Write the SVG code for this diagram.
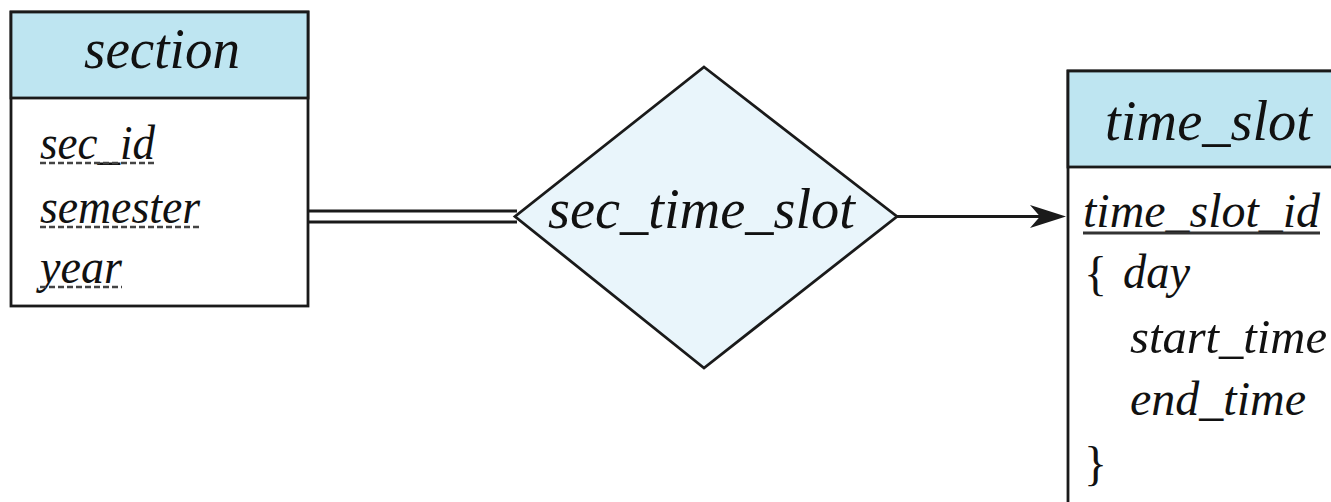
<svg xmlns="http://www.w3.org/2000/svg" width="1331" height="502" viewBox="0 0 1331 502">
<style>
.t{font-family:"Liberation Serif","Times New Roman",serif;font-style:italic;fill:#111;}
.up{font-style:normal;}
.hd{font-size:57px;}
.at{font-size:48px;}
.box{stroke:#1a1a1a;stroke-width:2.8;}
.head{fill:#bee5f1;}
.body{fill:#ffffff;}
.dash{stroke:#444;stroke-width:2.5;stroke-dasharray:6 3;fill:none;}
.solid{stroke:#333;stroke-width:2.8;fill:none;}
.conn{stroke:#1a1a1a;stroke-width:2.8;fill:none;}
</style>
<rect width="1331" height="502" fill="#ffffff"/>
<g id="section">
  <rect class="box body" x="11" y="12" width="297" height="294"/>
  <rect class="box head" x="11" y="12" width="297" height="86"/>
  <text class="t hd" x="84" y="68" textLength="156" lengthAdjust="spacingAndGlyphs">section</text>
  <text class="t at" x="40" y="159" textLength="115" lengthAdjust="spacingAndGlyphs">sec_id</text>
  <line class="dash" x1="40" y1="163" x2="156" y2="163"/>
  <text class="t at" x="40" y="223" textLength="160" lengthAdjust="spacingAndGlyphs">semester</text>
  <line class="dash" x1="40" y1="227" x2="200" y2="227"/>
  <text class="t at" x="40" y="283" textLength="82" lengthAdjust="spacingAndGlyphs">year</text>
  <line class="dash" x1="40" y1="287" x2="122" y2="287"/>
</g>
<g id="sec_time_slot">
  <polygon class="box" fill="#e9f5fb" points="704,67 897,216.5 704,368 515,216.5"/>
  <text class="t hd" x="548" y="228" textLength="307" lengthAdjust="spacingAndGlyphs">sec_time_slot</text>
</g>
<g id="time_slot">
  <rect class="box body" x="1068" y="71" width="300" height="460"/>
  <rect class="box head" x="1068" y="71" width="300" height="96"/>
  <text class="t hd" x="1105" y="140" textLength="207" lengthAdjust="spacingAndGlyphs">time_slot</text>
  <text class="t at" x="1083" y="227" textLength="237" lengthAdjust="spacingAndGlyphs">time_slot_id</text>
  <line class="solid" x1="1083" y1="233" x2="1320" y2="233"/>
  <text class="t at up" x="1084" y="290">{</text>
  <text class="t at" x="1123" y="288" textLength="67" lengthAdjust="spacingAndGlyphs">day</text>
  <text class="t at" x="1130" y="353" textLength="197" lengthAdjust="spacingAndGlyphs">start_time</text>
  <text class="t at" x="1130" y="415" textLength="176" lengthAdjust="spacingAndGlyphs">end_time</text>
  <text class="t at up" x="1084" y="480">}</text>
</g>
<g id="connectors">
  <line class="conn" x1="309" y1="211" x2="517" y2="211"/>
  <line class="conn" x1="309" y1="222" x2="517" y2="222"/>
  <line class="conn" x1="897" y1="216.5" x2="1045" y2="216.5"/>
  <polygon fill="#1a1a1a" points="1066,216.5 1030,205 1040,216.5 1030,228"/>
</g>
</svg>
